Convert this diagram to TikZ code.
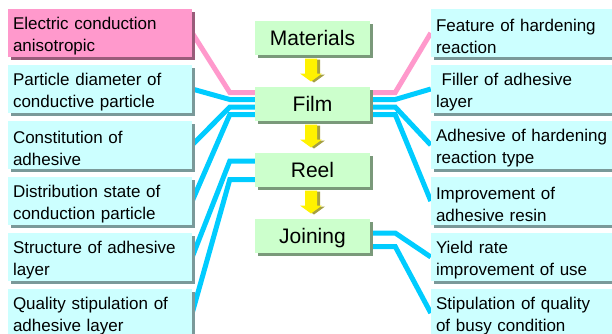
\documentclass[tikz,border=0pt]{standalone}
\usepackage{fontspec}
\setmainfont{Liberation Sans}
\usetikzlibrary{shadows,backgrounds,calc}

\definecolor{cyanbox}{HTML}{CCFFFF}
\definecolor{pinkbox}{HTML}{FF99CC}
\definecolor{greenbox}{HTML}{CCFFCC}
\definecolor{linkblue}{HTML}{00CCFF}
\definecolor{linkpink}{HTML}{FF99CC}

\begin{document}
\begin{tikzpicture}[x=1pt,y=-1pt,node distance=56pt,
  box/.style={rectangle,text width=174pt,inner xsep=5pt,inner ysep=0pt,minimum height=48pt,
    align=left,text height=19.5pt,font=\fontsize{17}{22}\selectfont},
  cyan node/.style={box,fill=cyanbox,drop shadow={shadow xshift=3pt,shadow yshift=-3pt,fill=cyanbox!60!black,opacity=1}},
  pink node/.style={box,fill=pinkbox,drop shadow={shadow xshift=3pt,shadow yshift=-3pt,fill=pinkbox!60!black,opacity=1}},
  main node/.style={rectangle,fill=greenbox,minimum width=115pt,minimum height=34pt,inner sep=0pt,
    text height=15pt,text depth=0pt,font=\fontsize{21}{24}\selectfont,
    drop shadow={shadow xshift=3pt,shadow yshift=-3pt,fill=greenbox!60!black,opacity=1}},
  link/.style={line width=5pt,draw=linkblue,line join=miter},
  yarrow/.style={fill=yellow}]
  \useasboundingbox (0,0) rectangle (612,333);

  % process steps
  \node[main node] (mat) at (312.5,37.5) {Materials};
  \node[main node, node distance=66pt] (film) [below of=mat] {Film};
  \node[main node, node distance=66pt] (reel) [below of=film] {Reel};
  \node[main node, node distance=66pt] (join) [below of=reel] {Joining};

  % left column
  \node[pink node] (l1) at (100,33) {Electric conduction\\anisotropic};
  \node[cyan node] (l2) [below of=l1] {Particle diameter of\\conductive particle};
  \node[cyan node] (l3) [below of=l2] {Constitution of\\adhesive};
  \node[cyan node] (l4) [below of=l3] {Distribution state of\\conduction particle};
  \node[cyan node] (l5) [below of=l4] {Structure of adhesive\\layer};
  \node[cyan node] (l6) [below of=l5] {Quality stipulation of\\adhesive layer};

  % right column
  \node[cyan node] (r1) at (523,33) {Feature of hardening\\reaction};
  \node[cyan node] (r2) [below of=r1] {\ Filler of adhesive\\layer};
  \node[cyan node] (r3) [below of=r2] {Adhesive of hardening\\reaction type};
  \node[cyan node] (r4) [below of=r3] {Improvement of\\adhesive resin};
  \node[cyan node] (r5) [below of=r4] {Yield rate\\improvement of use};
  \node[cyan node] (r6) [below of=r5] {Stipulation of quality\\of busy condition};

  % yellow arrows between steps
  \foreach \a/\b in {mat/film,film/reel,reel/join} {
    \coordinate (m) at ($(\a.south)!.5!(\b.north)$);
    \begin{scope}[shift={(m)},xshift=-1.5pt]
      \fill[yellow!60!black] (-3,-11) -- (9,-11) -- (9,4) -- (14,4) -- (3,12) -- (-8,4) -- (-3,4) -- cycle;
      \fill[yarrow] (-6,-12) -- (6,-12) -- (6,3) -- (11,3) -- (0,11) -- (-11,3) -- (-6,3) -- cycle;
    \end{scope}
  }

  \begin{scope}[on background layer]
    \draw[link,draw=linkpink] ([yshift=11pt]film.west) -- ++(-25,0) -- (l1.east);
    \draw[link,draw=linkpink] ([yshift=11pt]film.east) -- ++(25,0) -- (r1.west);
    \foreach \dy/\n in {4/l2,-3.5/l3,-11/l4}
      \draw[link] ([yshift=\dy pt]film.west) -- ++(-25,0) -- (\n.east);
    \foreach \dy/\n in {4/r2,-3.5/r3,-11/r4}
      \draw[link] ([yshift=\dy pt]film.east) -- ++(25,0) -- (\n.west);
    \foreach \dy/\n in {8.5/l5,-10/l6}
      \draw[link] ([yshift=\dy pt]reel.west) -- ++(-25,0) -- (\n.east);
    \foreach \dy/\n in {2.5/r5,-11/r6}
      \draw[link] ([yshift=\dy pt]join.east) -- ++(25,0) -- (\n.west);
  \end{scope}
\end{tikzpicture}
\end{document}
